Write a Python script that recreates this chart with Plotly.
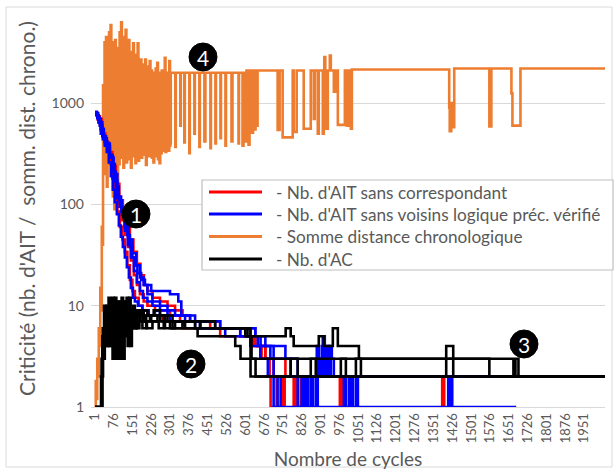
import plotly.graph_objects as go

# ---------------- data (cycle, value) ----------------
TICK_CYCLES = [1, 76, 151, 226, 301, 376, 451, 526, 601, 676, 751, 826, 901, 976,
               1051, 1126, 1201, 1276, 1351, 1426, 1501, 1576, 1651, 1726, 1801,
               1876, 1951]
Y_TICKS = [1, 10, 100, 1000]

SERIES_NAMES = ["- Nb. d'AIT sans correspondant",
                "- Nb. d'AIT sans voisins logique préc. vérifié",
                "- Somme distance chronologique",
                "- Nb. d'AC"]

# Somme distance chronologique (orange)
orange_x = [1, 4, 7, 10, 13, 16, 19, 22, 25, 28, 31,
            33, 36, 39, 42, 45, 48, 51, 54, 57, 60, 63, 66, 69, 72, 75, 78, 81, 84, 87, 90,
            93, 96, 99, 102, 105, 108, 111, 114, 117, 120, 123, 126, 129, 132, 135, 138,
            141, 144, 147, 150, 153, 156, 159, 162, 165, 168, 171, 174, 177, 180, 183, 186,
            189, 192, 195, 198, 201, 204, 207, 210, 213, 216, 219, 222, 225, 228, 231, 234,
            237, 240, 243, 246, 249, 252, 255, 258, 261, 264, 267, 270, 273, 276, 279, 282,
            285, 288, 291, 294, 297, 300,
            301, 303, 321, 323, 341, 343, 357, 359, 377, 379, 397, 399, 417, 419, 437, 441,
            461, 463, 481, 483, 501, 503, 521, 523, 545, 549, 573, 575, 589, 593,
            601, 605, 613, 617, 625, 631, 637, 641, 645, 649, 729, 737, 749, 789, 793, 805,
            833, 861, 873, 877, 889, 893, 909, 913, 915, 919, 921, 929, 937, 941, 953, 963,
            969, 997, 1005, 1011, 1021, 1025,
            1413, 1415, 1421, 1427, 1433, 1573, 1581, 1661, 1665, 1697, 2034]
orange_y = [1, 1.8, 1.2, 3, 2, 6, 4, 15, 9, 60, 40,
            1500, 400, 4000, 200, 4500, 150, 3500, 300, 5000, 250, 5900, 200, 4000, 120,
            3000, 90, 4200, 150, 3500, 120,
            2800, 250, 5000, 300, 6300, 290, 4500, 230, 3500, 300, 5300, 260, 3000, 340,
            4200, 280, 3200, 230, 2600, 300, 3900, 350, 2800, 255, 3000, 300, 3900, 270,
            2500, 320, 2700, 290, 2200, 350, 2400, 310, 2700, 245, 2000, 330, 2300, 300,
            2600, 380, 2100, 290, 2000, 260, 2000, 350, 2200, 300, 2500, 280, 2000, 255,
            2000, 320, 2100, 340, 2000, 360, 2800, 330, 2000, 350, 2000, 340, 2600, 380,
            400, 2000, 370, 2000, 600, 2000, 410, 2000, 320, 2000, 500, 2000, 370, 2000,
            420, 2000, 360, 2000, 400, 2000, 450, 2000, 380, 2000, 420, 2000, 400, 2000,
            380, 2000,
            420, 2100, 390, 2100, 510, 2100, 550, 2100, 600, 2100, 545, 2100, 460, 2100,
            520, 2100, 560, 2100, 700, 2100, 500, 2100, 500, 2100, 2850, 2100, 560, 2100,
            2950, 2100, 1300, 2100, 610, 2100, 600, 2100, 560, 2150,
            900, 530, 1000, 580, 2200, 590, 2200, 1250, 600, 2200, 2200]

# Nb. d'AIT sans correspondant (red) - several runs
red1_x = [1, 10, 20, 30, 40, 50, 60, 70, 80, 90, 100, 110, 120, 130, 140, 150, 160, 175,
          190, 210, 240, 270, 310, 350, 400, 450, 500, 560, 600, 640, 665, 697, 701, 720,
          725, 781, 793, 801, 857, 861, 865, 985, 989, 997, 1381, 1385, 1393, 1680]
red1_y = [800, 740, 620, 480, 400, 340, 270, 180, 120, 85, 60, 45, 34, 25, 18, 14, 12, 10,
          9, 8, 8, 7, 7, 6, 6, 6, 5, 5, 5, 4, 3, 2, 1, 1,
          2, 2, 1, 2, 2, 1, 2, 2, 1, 2, 2, 1, 2, 2]
red2_x = [1, 12, 24, 36, 48, 60, 72, 84, 96, 108, 120, 132, 144, 156, 168, 180, 195, 210,
          240, 270, 300, 340, 400, 460, 520, 580, 630, 680, 720, 760, 821, 829, 973, 977,
          985, 1680]
red2_y = [780, 690, 540, 450, 370, 290, 200, 130, 95, 70, 50, 38, 28, 20, 16, 13, 11, 10,
          9, 9, 8, 7, 7, 6, 6, 5, 4, 3, 3, 2, 1, 2, 2, 1, 2, 2]
red3_x = [1, 14, 28, 42, 56, 70, 84, 98, 112, 126, 140, 154, 168, 182, 196, 210, 230, 260,
          290, 320, 350, 380, 440, 500, 580, 620, 650, 680, 713, 745, 749, 757, 1680]
red3_y = [800, 700, 500, 410, 330, 240, 160, 110, 85, 62, 45, 34, 26, 20, 16, 14, 12, 11,
          10, 9, 8, 7, 7, 6, 6, 5, 4, 3, 2, 2, 1, 2, 2]

# Nb. d'AIT sans voisins logique préc. vérifié (blue) - several runs
blue1_x = [1, 8, 16, 24, 32, 40, 48, 56, 64, 72, 80, 88, 96, 104, 112, 120, 128, 136, 144,
           152, 160, 172, 190, 215, 240, 260, 300, 350, 400, 460, 520, 580, 620, 660, 690,
           713, 1680]
blue1_y = [820, 760, 640, 500, 440, 380, 330, 260, 190, 140, 105, 80, 62, 48, 38, 30, 24,
           19, 15, 12, 11, 10, 9, 8, 9, 8, 7, 7, 6, 6, 5, 5, 4, 3, 2, 1, 1]
blue2_x = [1, 10, 20, 30, 40, 50, 60, 70, 80, 90, 100, 110, 120, 130, 140, 150, 160, 170,
           185, 200, 225, 260, 300, 333, 345, 380, 420, 460, 500, 560, 600, 640, 680, 720,
           760, 800, 809, 825, 845, 861, 869, 881, 889, 897, 905, 913, 921, 929, 937, 945,
           953, 993, 1001, 1021, 1029, 1409, 1421, 1680]
blue2_y = [780, 720, 600, 480, 420, 370, 310, 250, 170, 115, 95, 80, 62, 50, 38, 30, 25, 21,
           18, 16, 14, 14, 13, 11, 8, 7, 7, 7, 6, 6, 6, 5, 4, 4, 3, 3, 1, 2, 2, 1, 2, 1, 3, 2,
           4, 2, 3, 2, 4, 3, 2, 1, 2, 1, 2, 1, 2, 2]
blue3_x = [1, 12, 24, 36, 48, 60, 72, 84, 96, 108, 120, 132, 144, 156, 168, 180, 192, 210,
           230, 260, 290, 320, 360, 420, 480, 540, 580, 620, 650, 700, 740, 781, 809, 841,
           849, 881, 885, 893, 901, 909, 917, 925, 933, 941, 973, 1041, 1049, 1413, 1425,
           1680]
blue3_y = [800, 700, 560, 450, 380, 300, 210, 150, 110, 80, 55, 40, 30, 22, 17, 14, 12, 11,
           10, 9, 8, 8, 7, 6, 6, 6, 5, 5, 4, 3, 3, 2, 2, 1, 2, 2, 4, 3, 2, 5, 3, 4, 3, 2, 2,
           1, 2, 1, 2, 2]
blue4_x = [1, 15, 30, 45, 60, 75, 90, 105, 120, 135, 150, 165, 180, 195, 210, 230, 260, 290,
           320, 360, 400, 440, 480, 540, 600, 640, 661, 690, 713, 729, 741, 821, 829, 837,
           1009, 1013, 1017, 1680]
blue4_y = [760, 650, 470, 400, 290, 200, 120, 85, 60, 45, 33, 25, 19, 16, 13, 11, 10, 9, 8,
           8, 7, 7, 6, 6, 6, 5, 4, 4, 2, 1, 2, 2, 1, 2, 2, 1, 2, 2]

# Nb. d'AC (black) - several runs
black1_x = [1, 22, 28, 33, 38, 44, 50, 56, 62, 68, 74, 80, 86, 92, 98, 104, 110, 116, 122,
            128, 134, 140, 146, 152, 160, 170, 185, 200, 225, 260, 300, 350, 400, 460, 520,
            560, 600, 625, 641, 1401, 1429, 2034]
black1_y = [1, 1, 2, 4, 7, 5, 9, 6, 11, 4, 8, 12, 5, 3, 7, 10, 4, 8, 11, 6, 9, 5, 8, 10, 7,
            9, 8, 7, 8, 7, 6, 7, 6, 6, 6, 6, 5, 3, 2, 4, 2, 2]
black2_x = [1, 26, 31, 36, 41, 47, 53, 59, 65, 71, 77, 83, 89, 95, 101, 107, 113, 119, 125,
            131, 137, 143, 149, 157, 167, 180, 195, 210, 235, 260, 290, 330, 380, 420, 470,
            520, 581, 609, 761, 781, 793, 893, 913, 949, 969, 1053, 1669, 1677, 1689, 2034]
black2_y = [1, 1, 3, 6, 9, 4, 8, 11, 5, 3, 9, 6, 11, 4, 8, 12, 3, 6, 9, 4, 12, 7, 9, 6, 8,
            7, 9, 8, 9, 8, 7, 7, 7, 6, 6, 6, 6, 5, 6, 5, 4, 5, 4, 6, 4, 3, 2, 3, 2, 2]
black3_x = [1, 18, 25, 30, 35, 40, 46, 52, 58, 64, 70, 76, 82, 88, 94, 100, 106, 112, 118,
            124, 130, 136, 142, 148, 155, 165, 175, 190, 205, 220, 250, 280, 320, 360, 420,
            480, 540, 581, 621, 1573, 2034]
black3_y = [1, 1, 2, 5, 3, 8, 10, 6, 4, 9, 12, 7, 4, 9, 6, 3, 8, 11, 5, 7, 10, 6, 4, 8, 6,
            9, 8, 6, 8, 7, 8, 6, 7, 6, 7, 6, 6, 6, 3, 2, 2]
black4_x = [1, 20, 27, 32, 37, 43, 49, 55, 61, 67, 73, 79, 85, 91, 97, 103, 109, 115, 121,
            127, 133, 139, 145, 151, 158, 168, 178, 192, 208, 230, 255, 275, 310, 360, 410,
            460, 520, 560, 581, 621, 781, 809, 861, 881, 981, 1001, 1041, 1061, 2034]
black4_y = [1, 1, 3, 6, 10, 7, 4, 12, 8, 5, 10, 7, 3, 8, 11, 6, 4, 9, 7, 12, 5, 8, 6, 9, 7,
            6, 9, 7, 6, 7, 6, 8, 6, 6, 5, 5, 5, 4, 3, 2, 3, 2, 3, 2, 3, 2, 3, 2, 2]

RED = "#ff0000"
BLUE = "#0000ff"
ORANGE = "#ed7d31"
BLACK = "#000000"
GREY_TXT = "#595959"
FONT = "Lato, Carlito, Calibri, sans-serif"
SERIES_COLORS = [RED, BLUE, ORANGE, BLACK]

fig = go.Figure()


def add_run(x, y, color, name):
    fig.add_trace(go.Scatter(
        x=x, y=y, mode="lines", line=dict(color=color, width=2.6, shape="hv"),
        name=name, legendgroup=name, showlegend=False, hoverinfo="skip"))


add_run(orange_x, orange_y, ORANGE, SERIES_NAMES[2])
for xx, yy in [(red1_x, red1_y), (red2_x, red2_y), (red3_x, red3_y)]:
    add_run(xx, yy, RED, SERIES_NAMES[0])
for xx, yy in [(blue1_x, blue1_y), (blue2_x, blue2_y), (blue3_x, blue3_y),
               (blue4_x, blue4_y)]:
    add_run(xx, yy, BLUE, SERIES_NAMES[1])
for xx, yy in [(black1_x, black1_y), (black2_x, black2_y), (black3_x, black3_y),
               (black4_x, black4_y)]:
    add_run(xx, yy, BLACK, SERIES_NAMES[3])

# plot area in pixels
PL, PR, PT, PB = 91, 605, 10, 407
W, H = 614, 470


def px_x(px):
    return (px - PL) / (PR - PL)


def px_y(py):
    return (PB - py) / (PB - PT)


shapes = [
    # outer chart border
    dict(type="rect", xref="paper", yref="paper",
         x0=px_x(6), x1=px_x(612), y0=px_y(467), y1=px_y(7),
         line=dict(color="#d9d9d9", width=1), fillcolor="rgba(0,0,0,0)",
         layer="below"),
    # legend frame (white, above the lines)
    dict(type="rect", xref="paper", yref="paper",
         x0=px_x(202), x1=px_x(613), y0=px_y(270), y1=px_y(180),
         line=dict(color="#bfbfbf", width=1.2), fillcolor="white", layer="above"),
]
annotations = []

# legend entries (line sample + label), in the reference's order
LEG_ROWS = [192, 214, 236.5, 259]
for name, color, ry in zip(SERIES_NAMES, SERIES_COLORS, LEG_ROWS):
    shapes.append(dict(type="line", xref="paper", yref="paper",
                       x0=px_x(209), x1=px_x(262), y0=px_y(ry), y1=px_y(ry),
                       line=dict(color=color, width=3), layer="above"))
    annotations.append(dict(x=px_x(274), y=px_y(ry), xref="paper", yref="paper",
                            xanchor="left", yanchor="middle", text=name,
                            showarrow=False,
                            font=dict(size=17.2, color=GREY_TXT, family=FONT)))

MARKERS = [("1", 136, 214), ("2", 191, 364), ("3", 524, 344), ("4", 203, 57)]
R = 14
for label, cx, cy in MARKERS:
    shapes.append(dict(type="circle", xref="paper", yref="paper",
                       x0=px_x(cx - R), x1=px_x(cx + R),
                       y0=px_y(cy + R), y1=px_y(cy - R),
                       fillcolor="#000000", line=dict(color="#000000", width=1)))
    annotations.append(dict(x=px_x(cx), y=px_y(cy), xref="paper", yref="paper",
                            xanchor="center", yanchor="middle",
                            text=label, showarrow=False,
                            font=dict(color="white", size=21, family=FONT)))

fig.update_layout(
    width=W, height=H,
    margin=dict(l=PL, r=W - PR, t=PT, b=H - PB, autoexpand=False),
    paper_bgcolor="white", plot_bgcolor="white",
    font=dict(family=FONT, color=GREY_TXT),
    showlegend=False,
    shapes=shapes,
    annotations=annotations,
)
fig.update_xaxes(
    range=[-15, 2034], tickmode="array", tickvals=TICK_CYCLES,
    ticktext=[str(v) for v in TICK_CYCLES], tickangle=-90, automargin=False,
    tickfont=dict(size=13, color=GREY_TXT), showgrid=False, zeroline=False,
    showline=True, linecolor="#d9d9d9", linewidth=1, ticks="",
    title=dict(text="Nombre de cycles", font=dict(size=19, color=GREY_TXT), standoff=15),
)
fig.update_yaxes(
    type="log", range=[0, 3.92], tickmode="array", tickvals=Y_TICKS,
    ticktext=[str(v) for v in Y_TICKS], tickfont=dict(size=14, color=GREY_TXT),
    showgrid=True, gridcolor="#d9d9d9", gridwidth=1, zeroline=False, showline=False,
    ticks="", ticklabelstandoff=6, automargin=False,
    title=dict(text="Criticité (nb. d'AIT /  somm. dist. chrono.)",
               font=dict(size=21, color=GREY_TXT), standoff=10),
)

fig.write_html("out.html", config={"displayModeBar": False},
               post_script="document.body.style.margin='0px';"
                           "document.body.style.padding='0px';")
